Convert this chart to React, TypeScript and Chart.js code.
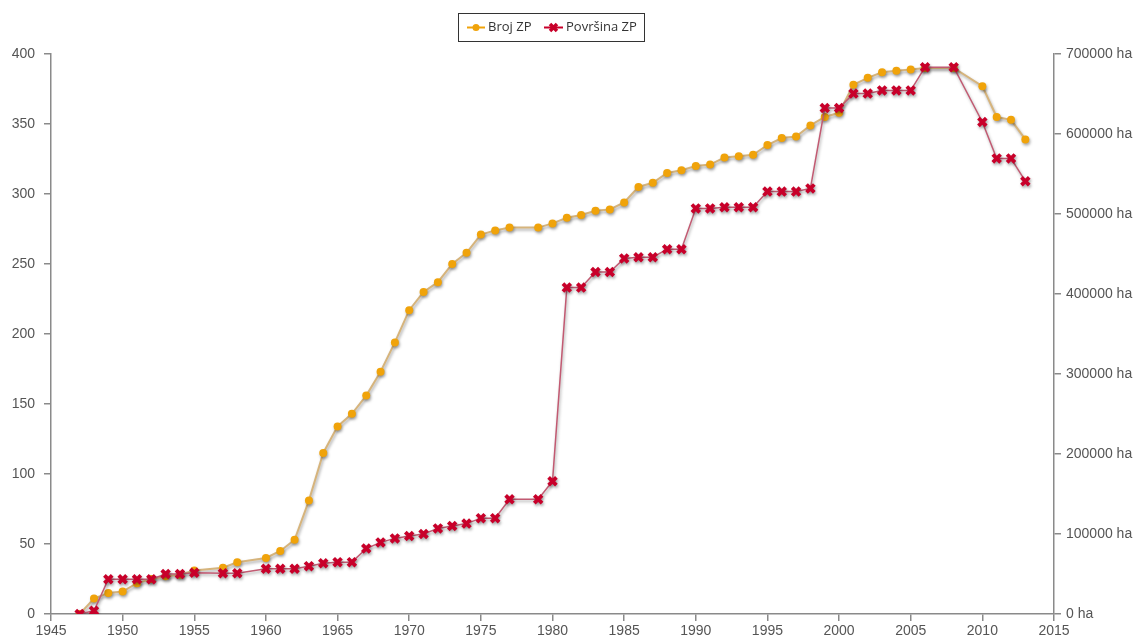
import React, { useEffect, useRef } from "react";
import { Chart, registerables } from "chart.js";

Chart.register(...registerables);

const years = [
  1947, 1948, 1949, 1950, 1951, 1952, 1953, 1954, 1955, 1957, 1958, 1960, 1961,
  1962, 1963, 1964, 1965, 1966, 1967, 1968, 1969, 1970, 1971, 1972, 1973, 1974,
  1975, 1976, 1977, 1979, 1980, 1981, 1982, 1983, 1984, 1985, 1986, 1987, 1988,
  1989, 1990, 1991, 1992, 1993, 1994, 1995, 1996, 1997, 1998, 1999, 2000, 2001,
  2002, 2003, 2004, 2005, 2006, 2008, 2010, 2011, 2012, 2013,
];

const brojZP = [
  0, 11, 15, 16, 22, 25, 27, 28, 31, 33, 37, 40, 45,
  53, 81, 115, 134, 143, 156, 173, 194, 217, 230, 237, 250, 258,
  271, 274, 276, 276, 279, 283, 285, 288, 289, 294, 305, 308, 315,
  317, 320, 321, 326, 327, 328, 335, 340, 341, 349, 355, 358, 378,
  383, 387, 388, 389, 390, 390, 377, 355, 353, 339,
];

const povrsinaZP = [
  0, 4000, 43500, 43500, 43500, 43500, 50000, 50000, 51500, 51000, 51000, 56500, 56500,
  56500, 59800, 63500, 64800, 64800, 81800, 89500, 94500, 97500, 100000, 107000, 110000, 113000,
  119800, 119800, 143500, 143500, 166000, 408000, 408000, 427500, 427500, 444500, 446000, 446000, 456000,
  456000, 507000, 507000, 508500, 508500, 508500, 528000, 528000, 528000, 532000, 632500, 632500, 650500,
  650500, 654500, 654500, 654500, 683500, 683500, 615000, 569500, 569500, 541000,
];

const seriesNames = ["Broj ZP", "Površina ZP"];

const ORANGE = "#f0a30a";
const ORANGE_LINE = "#d6b47c";
const RED = "#c8002a";
const RED_LINE = "#c25a72";
const AXIS = "#8a8a8a";
const TICK_TEXT = "#555555";
const FONT = "Arial, 'Liberation Sans', sans-serif";

const shadowPlugin = {
  id: "lineShadow",
  beforeDatasetDraw(chart: any) {
    const ctx = chart.ctx;
    ctx.save();
    ctx.shadowColor = "rgba(0,0,0,0.35)";
    ctx.shadowBlur = 3;
    ctx.shadowOffsetX = 1;
    ctx.shadowOffsetY = 2;
  },
  afterDatasetDraw(chart: any) {
    chart.ctx.restore();
  },
};

const legendPlugin = {
  id: "boxLegend",
  afterDraw(chart: any) {
    const ctx = chart.ctx;
    ctx.save();
    ctx.strokeStyle = "#333333";
    ctx.lineWidth = 1;
    ctx.strokeRect(458.5, 13.5, 186, 28);
    const cy = 27.5;
    // orange sample
    ctx.strokeStyle = ORANGE;
    ctx.lineWidth = 2;
    ctx.beginPath();
    ctx.moveTo(467, cy);
    ctx.lineTo(485, cy);
    ctx.stroke();
    ctx.fillStyle = ORANGE;
    ctx.beginPath();
    ctx.arc(476, cy, 3.5, 0, Math.PI * 2);
    ctx.fill();
    // red sample
    ctx.strokeStyle = RED;
    ctx.beginPath();
    ctx.moveTo(544, cy);
    ctx.lineTo(563, cy);
    ctx.stroke();
    ctx.lineWidth = 3.5;
    ctx.beginPath();
    ctx.moveTo(550, cy - 3.5);
    ctx.lineTo(557, cy + 3.5);
    ctx.moveTo(557, cy - 3.5);
    ctx.lineTo(550, cy + 3.5);
    ctx.stroke();
    ctx.fillStyle = "#333333";
    ctx.font = "13px 'Open Sans', sans-serif";
    ctx.textBaseline = "middle";
    ctx.textAlign = "left";
    ctx.fillText(seriesNames[0], 488, cy);
    ctx.fillText(seriesNames[1], 566, cy);
    ctx.restore();
  },
};

export default function App() {
  const ref = useRef<HTMLCanvasElement | null>(null);

  useEffect(() => {
    if (!ref.current) return;
    const chart = new Chart(ref.current, {
      type: "line",
      data: {
        datasets: [
          {
            label: seriesNames[0],
            data: years.map((y, i) => ({ x: y, y: brojZP[i] })),
            yAxisID: "y",
            borderColor: ORANGE_LINE,
            borderWidth: 2,
            pointBackgroundColor: ORANGE,
            pointBorderColor: ORANGE,
            pointRadius: 4,
            pointBorderWidth: 0,
            pointStyle: "circle",
            tension: 0,
            order: 2,
          },
          {
            label: seriesNames[1],
            data: years.map((y, i) => ({ x: y, y: povrsinaZP[i] })),
            yAxisID: "y1",
            borderColor: RED_LINE,
            borderWidth: 1.5,
            pointBackgroundColor: RED,
            pointBorderColor: RED,
            pointRadius: 5.5,
            pointBorderWidth: 3.8,
            pointStyle: "crossRot",
            tension: 0,
            order: 1,
          },
        ],
      },
      options: {
        animation: false,
        responsive: true,
        maintainAspectRatio: false,
        layout: { padding: { top: 54, left: 0, right: 0, bottom: 0 } },
        plugins: {
          legend: { display: false },
          tooltip: { enabled: false },
        },
        scales: {
          x: {
            type: "linear",
            min: 1945,
            max: 2015,
            afterFit: (s: any) => {
              s.height = 27;
            },
            ticks: {
              stepSize: 5,
              color: TICK_TEXT,
              font: { family: FONT, size: 14 },
              padding: 2,
              callback: (v: any) => String(v),
            },
            grid: {
              drawOnChartArea: false,
              drawTicks: true,
              tickLength: 7,
              color: AXIS,
              lineWidth: 1.5,
            },
            border: { display: true, color: AXIS, width: 1.5 },
          },
          y: {
            type: "linear",
            position: "left",
            min: 0,
            max: 400,
            afterFit: (s: any) => {
              s.width = 51;
            },
            ticks: {
              stepSize: 50,
              color: TICK_TEXT,
              font: { family: FONT, size: 14 },
              padding: 9,
            },
            grid: {
              drawOnChartArea: false,
              drawTicks: true,
              tickLength: 7,
              color: AXIS,
              lineWidth: 1.5,
            },
            border: { display: true, color: AXIS, width: 1.5 },
          },
          y1: {
            type: "linear",
            position: "right",
            min: 0,
            max: 700000,
            afterFit: (s: any) => {
              s.width = 82;
            },
            ticks: {
              stepSize: 100000,
              color: TICK_TEXT,
              font: { family: FONT, size: 14 },
              padding: 5,
              callback: (v: any) => `${v} ha`,
            },
            grid: {
              drawOnChartArea: false,
              drawTicks: true,
              tickLength: 7,
              color: AXIS,
              lineWidth: 1.5,
            },
            border: { display: true, color: AXIS, width: 1.5 },
          },
        },
      },
      plugins: [shadowPlugin, legendPlugin],
    });
    return () => chart.destroy();
  }, []);

  return (
    <div
      style={{
        position: "absolute",
        left: 0,
        top: 0,
        width: 1136,
        height: 641,
        background: "#ffffff",
      }}
    >
      <canvas ref={ref} />
    </div>
  );
}
